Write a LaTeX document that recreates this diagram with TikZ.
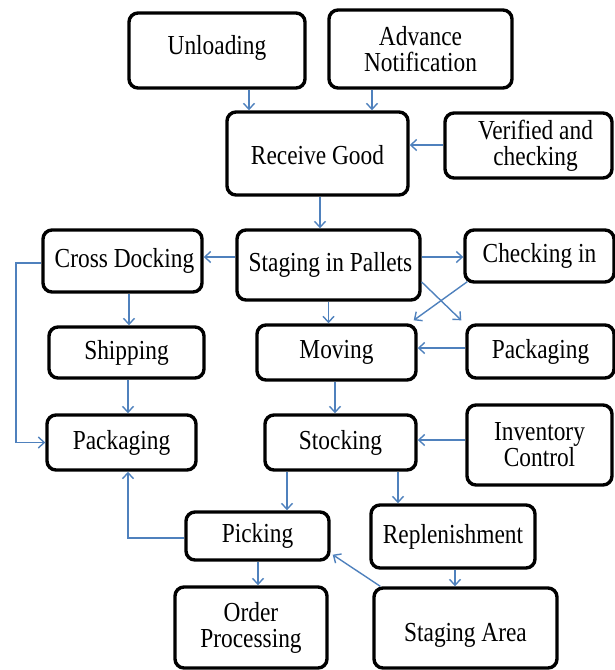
\documentclass[tikz,border=0pt]{standalone}
\usepackage{fontspec}
\setmainfont{Liberation Serif}
\usetikzlibrary{arrows.meta}
\definecolor{arrblue}{HTML}{4F81BD}
\newcommand{\sq}[1]{\scalebox{0.85}[1]{#1}}
\newcommand{\lift}[2]{\raisebox{#1}[\height][\depth]{#2}}
\tikzset{
  box/.style={draw=black, line width=3.4pt, rounded corners=9pt, inner sep=0pt,
    align=center, font=\fontsize{27.5}{26}\selectfont, fill=white},
  arr/.style={draw=arrblue, line width=1.4pt, -{Straight Barb[length=6pt,width=11pt,line width=1.4pt]}}
}
\begin{document}
\begin{tikzpicture}[x=1pt,y=-1pt]
\useasboundingbox (0,0) rectangle (615,670);
% boxes
\node[box, minimum width=176pt, minimum height=75pt] (unl) at (217,50.5) {\lift{3pt}{\sq{Unloading}}};
\node[box, minimum width=183pt, minimum height=78pt] (adv) at (420.5,49) {\sq{Advance}\\\sq{Notification}};
\node[box, minimum width=181pt, minimum height=83pt] (rec) at (317.5,153.5) {\lift{-2pt}{\sq{Receive Good}}};
\node[box, minimum width=167pt, minimum height=65pt] (ver) at (528.5,145.5) {\hspace*{14pt}\sq{Verified and}\\\hspace*{14pt}\sq{checking}};
\node[box, minimum width=183pt, minimum height=70pt] (stp) at (328.5,265) {\hspace*{4pt}\sq{Staging in Pallets}};
\node[box, minimum width=159pt, minimum height=62pt] (crd) at (122.5,261) {\hspace*{4pt}\sq{Cross Docking}};
\node[box, minimum width=149pt, minimum height=52pt] (chk) at (539.5,256) {\sq{Checking in}};
\node[box, minimum width=155pt, minimum height=51pt] (shp) at (126.5,352.5) {\sq{Shipping}};
\node[box, minimum width=159pt, minimum height=55pt] (mov) at (336.5,352.5) {\sq{Moving}};
\node[box, minimum width=147pt, minimum height=53pt] (pkr) at (540.5,351.5) {\sq{Packaging}};
\node[box, minimum width=149pt, minimum height=55pt] (pkl) at (121.5,442.5) {\sq{Packaging}};
\node[box, minimum width=151pt, minimum height=55pt] (stk) at (340.5,442.5) {\sq{Stocking}};
\node[box, minimum width=145pt, minimum height=80pt] (inv) at (539.5,445) {\sq{Inventory}\\\sq{Control}};
\node[box, minimum width=143pt, minimum height=48pt] (pck) at (257.5,536) {\sq{Picking}};
\node[box, minimum width=164pt, minimum height=63pt] (rep) at (453,536.5) {\sq{Replenishment}};
\node[box, minimum width=152pt, minimum height=81pt] (ord) at (251,627.5) {\sq{Order}\\\sq{Processing}};
\node[box, minimum width=183pt, minimum height=80pt] (sta) at (465.5,628) {\lift{-7pt}{\sq{Staging Area}}};
% connectors
\draw[arr] ([xshift=32pt]unl.south) -- ([xshift=32pt]unl.south |- rec.north);
\draw[arr] ([xshift=-48.5pt]adv.south) -- ([xshift=-48.5pt]adv.south |- rec.north);
\draw[arr] ([yshift=0.5pt]ver.west) -- ([yshift=0.5pt]ver.west -| rec.east);
\draw[arr] ([xshift=2.5pt]rec.south) -- ([xshift=2.5pt]rec.south |- stp.north);
\draw[arr] ([yshift=8pt]stp.west) -- ([yshift=8pt]stp.west -| crd.east);
\draw[arr] ([yshift=8pt]stp.east) -- ([yshift=8pt]stp.east -| chk.west);
\draw[arr] (stp.south) -- (stp.south |- mov.north);
\draw[arr] ([yshift=-17pt]stp.east) -- ([xshift=-4pt,yshift=3pt]pkr.north west);
\draw[arr] ([xshift=4pt,yshift=2pt]chk.south west) -- ([xshift=-4pt,yshift=3pt]mov.north east);
\draw[arr] ([yshift=3.5pt]pkr.west) -- ([yshift=3.5pt]pkr.west -| mov.east);
\draw[arr] ([xshift=6.5pt]crd.south) -- ([xshift=6.5pt]crd.south |- shp.north);
\coordinate (c1) at (16,442.5);
\draw[arr] ([yshift=-2pt]crd.west) -| (c1) -- (pkl.west);
\draw[arr] ([xshift=1.5pt]shp.south) -- ([xshift=1.5pt]shp.south |- pkl.north);
\draw[arr] ([xshift=-1.5pt]mov.south) -- ([xshift=-1.5pt]mov.south |- stk.north);
\draw[arr] ([yshift=5pt]inv.west) -- ([yshift=5pt]inv.west -| stk.east);
\draw[arr] ([xshift=-53.5pt]stk.south) -- ([xshift=-53.5pt]stk.south |- pck.north);
\draw[arr] ([xshift=57.5pt]stk.south) -- ([xshift=57.5pt]stk.south |- rep.north);
\draw[arr] ([yshift=-2pt]pck.west) -| ([xshift=6.5pt]pkl.south);
\draw[arr] ([xshift=0.5pt]pck.south) -- ([xshift=0.5pt]pck.south |- ord.north);
\draw[arr] ([xshift=2pt]rep.south) -- ([xshift=2pt]rep.south |- sta.north);
\draw[arr] ([xshift=8pt]sta.north west) -- ([xshift=2pt,yshift=7pt]pck.south east);
\end{tikzpicture}
\end{document}
